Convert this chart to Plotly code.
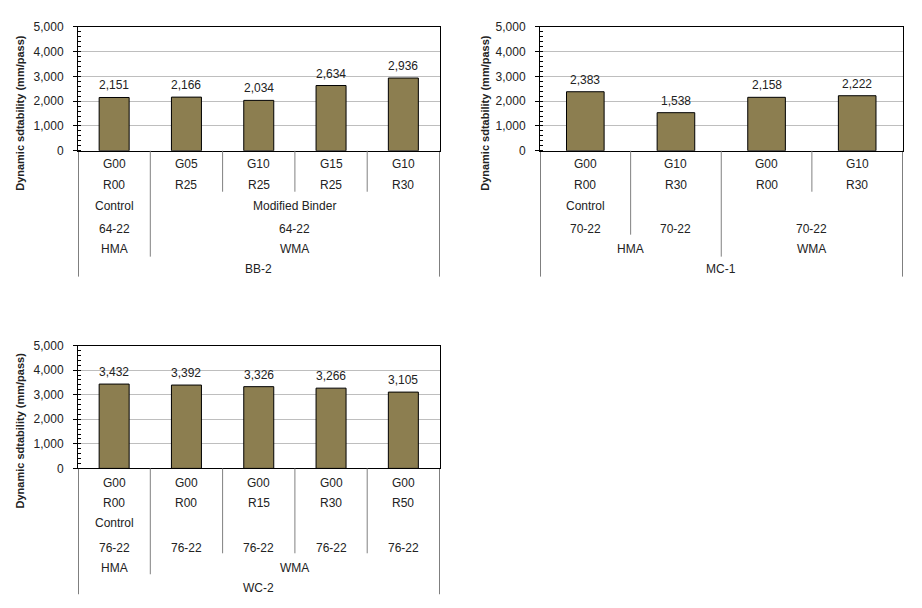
import plotly.graph_objects as go

# page margin of the browser body (8px) is accounted for: figure is drawn at (8, 8)
OFF = 8
W, H = 922 - 2 * OFF, 608 - 2 * OFF
# measured vertical mapping of paper coords in the rendered page: page_y = A + B * intended
A_Y, B_Y = 5.25, 0.9775

# ---------------- data ----------------
c1_g = ["G00", "G05", "G10", "G15", "G10"]
c1_r = ["R00", "R25", "R25", "R25", "R30"]
c1_vals = [2151, 2166, 2034, 2634, 2936]
c1_type = [("Control", 0, 0), ("Modified Binder", 1, 4)]
c1_pg = [("64-22", 0, 0), ("64-22", 1, 4)]
c1_mix = [("HMA", 0, 0), ("WMA", 1, 4)]
c1_name = [("BB-2", 0, 4)]

c2_g = ["G00", "G10", "G00", "G10"]
c2_r = ["R00", "R30", "R00", "R30"]
c2_vals = [2383, 1538, 2158, 2222]
c2_type = [("Control", 0, 0)]
c2_pg = [("70-22", 0, 0), ("70-22", 1, 1), ("70-22", 2, 3)]
c2_mix = [("HMA", 0, 1), ("WMA", 2, 3)]
c2_name = [("MC-1", 0, 3)]

c3_g = ["G00", "G00", "G00", "G00", "G00"]
c3_r = ["R00", "R00", "R15", "R30", "R50"]
c3_vals = [3432, 3392, 3326, 3266, 3105]
c3_type = [("Control", 0, 0)]
c3_pg = [("76-22", 0, 0), ("76-22", 1, 1), ("76-22", 2, 2), ("76-22", 3, 3), ("76-22", 4, 4)]
c3_mix = [("HMA", 0, 0), ("WMA", 1, 4)]
c3_name = [("WC-2", 0, 4)]

y_title = "Dynamic sdtability (mm/pass)"

# ---------------- layout helpers (page px -> paper fraction) ----------------
def fx(p):
    return (p - OFF) / W

def fy(p):
    q = (p - A_Y) / B_Y
    return 1 - (q - OFF) / H

BAR = "#8C7E50"
FONT = "Liberation Sans, Arial, sans-serif"
TXT = "#222222"

panels = [
    dict(g=c1_g, r=c1_r, vals=c1_vals, rows=[c1_type, c1_pg, c1_mix, c1_name],
         xdom=(78, 439.5), ytop=25, ybot=149,
         rowy=[162, 183, 204, 227, 247, 267],
         seps=[(0.5, 255), (1.5, 190), (2.5, 190), (3.5, 190)], outer=275,
         title=(20, 111)),
    dict(g=c2_g, r=c2_r, vals=c2_vals, rows=[c2_type, c2_pg, c2_mix, c2_name],
         xdom=(540, 902.5), ytop=25, ybot=149,
         rowy=[162, 183, 204, 227, 247, 267],
         seps=[(0.5, 233), (1.5, 255), (2.5, 190)], outer=275,
         title=(485, 111)),
    dict(g=c3_g, r=c3_r, vals=c3_vals, rows=[c3_type, c3_pg, c3_mix, c3_name],
         xdom=(78, 439.5), ytop=344, ybot=467,
         rowy=[482, 502, 522, 547, 567, 587],
         seps=[(0.5, 573), (1.5, 552), (2.5, 552), (3.5, 552)], outer=593,
         title=(20, 429)),
]

fig = go.Figure()
annotations = []
shapes = []
layout = {}

for k, p in enumerate(panels, start=1):
    xa = "x" if k == 1 else f"x{k}"
    ya = "y" if k == 1 else f"y{k}"
    n = len(p["vals"])
    xs = list(range(n))
    fig.add_trace(go.Bar(
        x=xs, y=p["vals"], xaxis=xa, yaxis=ya,
        marker=dict(color=BAR, line=dict(color="#000000", width=1)),
        width=0.415, showlegend=False, hoverinfo="y",
    ))
    layout["xaxis" if k == 1 else f"xaxis{k}"] = dict(
        domain=[fx(p["xdom"][0]), fx(p["xdom"][1])],
        anchor=ya, range=[-0.5, n - 0.5],
        showticklabels=False, showgrid=False, zeroline=False,
        showline=True, linecolor="#000000", linewidth=1, mirror=True,
        ticks="", fixedrange=True,
    )
    layout["yaxis" if k == 1 else f"yaxis{k}"] = dict(
        domain=[fy(p["ybot"]), fy(p["ytop"])],
        anchor=xa, range=[0, 5000], tickvals=[0, 1000, 2000, 3000, 4000, 5000],
        tickformat=",", showgrid=True, gridcolor="#BEBEBE", gridwidth=1,
        zeroline=False, showline=True, linecolor="#000000", linewidth=1, mirror=True,
        ticks="outside", ticklen=4, tickcolor="#000000", ticklabelstandoff=7,
        minor=dict(ticks="inside", dtick=200, ticklen=3, tickcolor="#000000", showgrid=False),
        tickfont=dict(family=FONT, size=12, color=TXT), fixedrange=True,
    )
    # value labels
    for i, v in enumerate(p["vals"]):
        annotations.append(dict(
            x=i, y=v, xref=xa, yref=ya, text=f"{v:,}", showarrow=False,
            yanchor="middle", yshift=12, font=dict(family=FONT, size=12, color=TXT),
        ))
    # first two label rows (per category)
    for i in range(n):
        for txt, ry in ((p["g"][i], p["rowy"][0]), (p["r"][i], p["rowy"][1])):
            annotations.append(dict(
                x=i, y=fy(ry), xref=xa, yref="paper", text=txt, showarrow=False,
                yanchor="middle", font=dict(family=FONT, size=12, color=TXT),
            ))
    # grouped label rows
    for row, ry in zip(p["rows"], p["rowy"][2:]):
        for txt, a, b in row:
            annotations.append(dict(
                x=(a + b) / 2, y=fy(ry), xref=xa, yref="paper", text=txt, showarrow=False,
                yanchor="middle", font=dict(family=FONT, size=12, color=TXT),
            ))
    # separators
    for sx, ey in p["seps"]:
        shapes.append(dict(type="line", xref=xa, yref="paper", x0=sx, x1=sx,
                           y0=fy(p["ybot"]), y1=fy(ey),
                           line=dict(color="#808080", width=1)))
    for sx in (-0.5, n - 0.5):
        shapes.append(dict(type="line", xref=xa, yref="paper", x0=sx, x1=sx,
                           y0=fy(p["ybot"]), y1=fy(p["outer"]),
                           line=dict(color="#000000", width=1)))
    # y title
    annotations.append(dict(
        x=fx(p["title"][0]), y=fy(p["title"][1]), xref="paper", yref="paper",
        text=f"<b>{y_title}</b>", textangle=-90, showarrow=False,
        xanchor="center", yanchor="middle", font=dict(family=FONT, size=11, color=TXT),
    ))

fig.update_layout(
    width=W, height=H, autosize=False,
    margin=dict(l=0, r=0, t=0, b=0),
    paper_bgcolor="#FFFFFF", plot_bgcolor="#FFFFFF",
    bargap=0.585,
    annotations=annotations, shapes=shapes,
    **layout,
)

fig.write_html("out.html", config={"displayModeBar": False})
